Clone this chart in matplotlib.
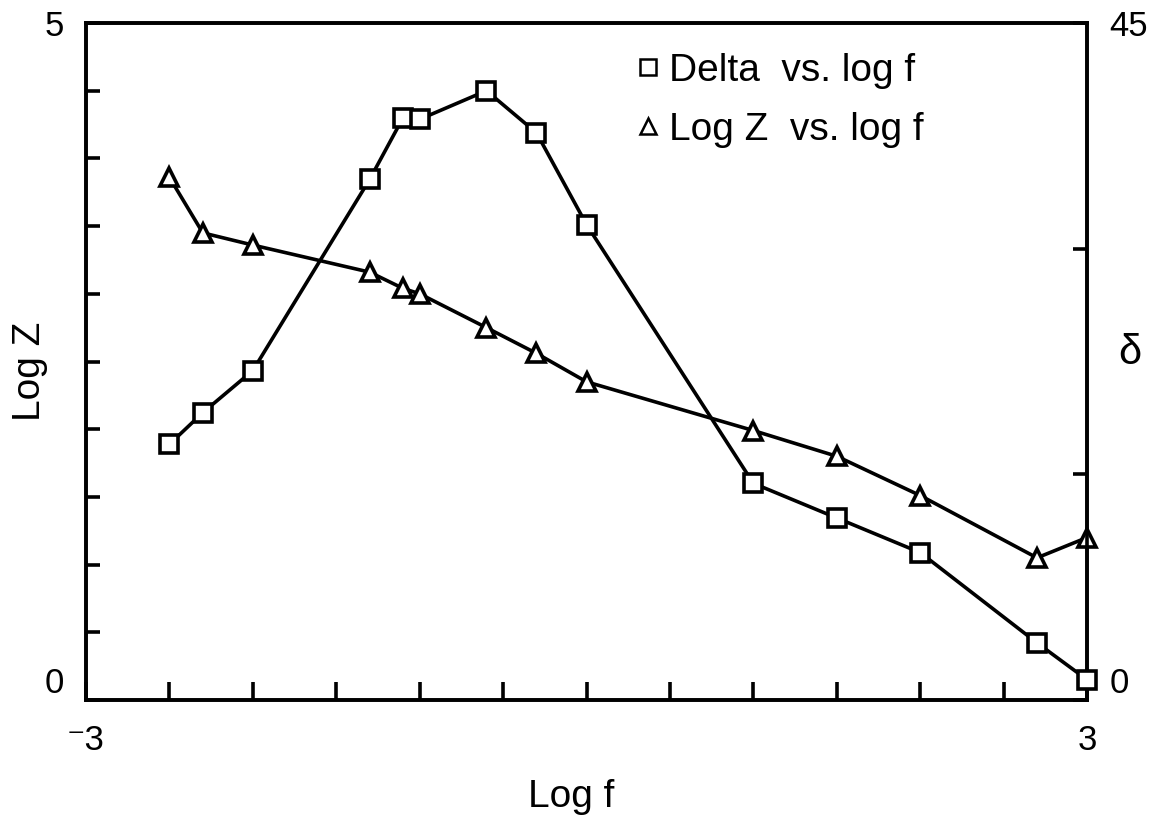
import matplotlib
matplotlib.use("Agg")
import matplotlib.pyplot as plt
from matplotlib.lines import Line2D

plt.rcParams['font.family'] = ['Liberation Sans', 'DejaVu Sans']

# Measured frequency points (log f) shared by both series
log_f = [-2.5, -2.3, -2.0, -1.3, -1.1, -1.0, -0.6, -0.3, 0.0, 1.0, 1.5, 2.0, 2.7, 3.0]
# Phase angle delta (right axis, degrees)
delta = [17.0, 19.1, 21.9, 34.6, 38.7, 38.6, 40.5, 37.7, 31.6, 14.4, 12.1, 9.8, 3.8, 1.35]
# Log |Z| (left axis)
log_z = [3.86, 3.45, 3.36, 3.16, 3.04, 3.00, 2.75, 2.56, 2.35, 1.99, 1.80, 1.51, 1.05, 1.20]

x_ticks = [-3, -2.5, -2, -1.5, -1, -0.5, 0, 0.5, 1, 1.5, 2, 2.5, 3]
x_ticklabels = ['\u207b3', '', '', '', '', '', '', '', '', '', '', '', '3']
left_ticks = [0, 0.5, 1, 1.5, 2, 2.5, 3, 3.5, 4, 4.5, 5]
left_ticklabels = ['0', '', '', '', '', '', '', '', '', '', '5']
right_ticks = [0, 15, 30, 45]
right_ticklabels = ['0', '', '', '45']

legend_labels = ['Delta  vs. log f', 'Log Z  vs. log f']

LW = 2.6
fig = plt.figure(figsize=(11.53, 8.19), dpi=100)
ax = fig.add_axes([0.0746, 0.1453, 0.8682, 0.8266])
ax2 = ax.twinx()

ax.set_xlim(-3, 3)
ax.set_ylim(0, 5)
ax2.set_ylim(0, 45)

marker_kw = dict(color='black', lw=LW, markersize=12.5, markerfacecolor='white',
                 markeredgecolor='black', markeredgewidth=2.6, clip_on=False)
ax.plot(log_f, log_z, marker='^', zorder=3, **marker_kw)
ax2.plot(log_f, delta, marker='s', zorder=3, **marker_kw)

for a in (ax, ax2):
    for s in a.spines.values():
        s.set_linewidth(LW)

ax.set_xticks(x_ticks)
ax.set_xticklabels(x_ticklabels, fontsize=25)
ax.tick_params(axis='x', direction='in', length=13, width=LW, pad=17)
ax.set_yticks(left_ticks)
ax.set_yticklabels(left_ticklabels, fontsize=25)
ax.tick_params(axis='y', direction='in', length=10, width=LW, pad=16)
ax2.set_yticks(right_ticks)
ax2.set_yticklabels(right_ticklabels, fontsize=25)
ax2.tick_params(axis='y', direction='in', length=10, width=LW, pad=16)

# zero labels sit on the baseline of the frame
ax.get_yticklabels()[0].set_va('bottom')
ax2.get_yticklabels()[0].set_va('bottom')

ax.set_xlabel('Log f', fontsize=28, va='center')
ax.xaxis.set_label_coords(0.485, -0.143)
ax.set_ylabel('Log Z', fontsize=28, va='center')
ax.yaxis.set_label_coords(-0.056, 0.485)
ax2.set_ylabel('\u03b4', fontsize=30, rotation=0, va='center', ha='center')
ax2.yaxis.set_label_coords(1.043, 0.513)

handles = [
    Line2D([], [], ls='none', marker='s', markersize=11, markerfacecolor='white',
           markeredgecolor='black', markeredgewidth=1.8),
    Line2D([], [], ls='none', marker='^', markersize=12, markerfacecolor='white',
           markeredgecolor='black', markeredgewidth=1.8),
]
ax.legend(handles, legend_labels, loc='upper left', bbox_to_anchor=(0.53, 0.985),
          frameon=False, fontsize=28, handlelength=0.6, handletextpad=0.25,
          labelspacing=0.6, borderpad=0)

fig.savefig('out.png', dpi=100)
